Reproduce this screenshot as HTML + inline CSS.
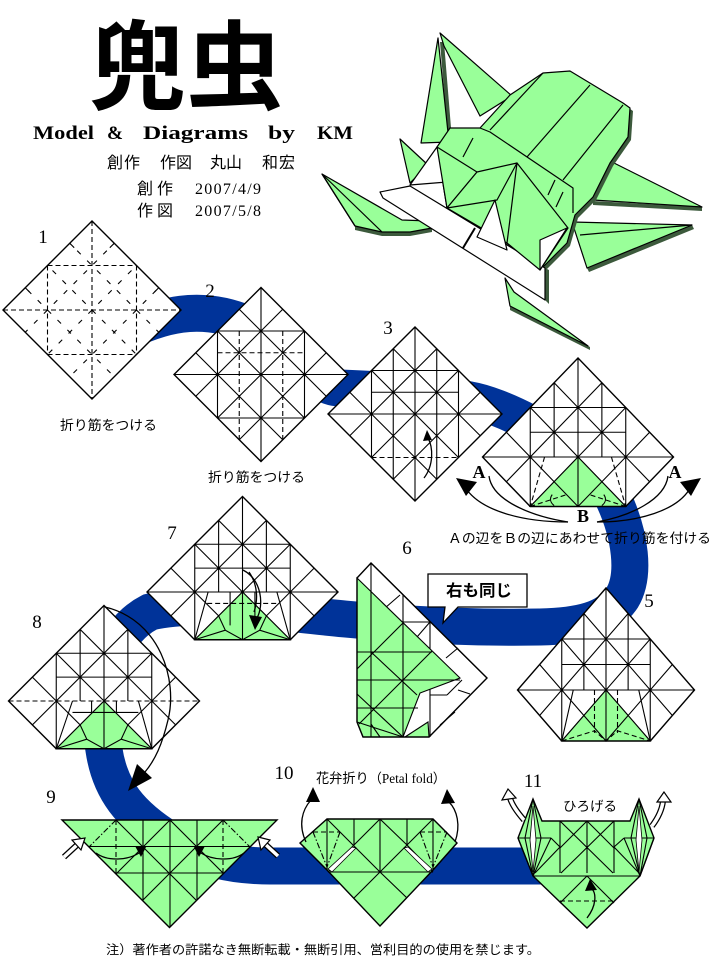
<!DOCTYPE html>
<html><head><meta charset="utf-8">
<style>
html,body{margin:0;padding:0;background:#fff;}
svg{display:block;}
.l{fill:none;stroke:#000;stroke-width:1.1;vector-effect:non-scaling-stroke;}
.d{fill:none;stroke:#000;stroke-width:1.1;stroke-dasharray:5 3;vector-effect:non-scaling-stroke;}
.d2{fill:none;stroke:#000;stroke-width:1.1;stroke-dasharray:5 9;vector-effect:non-scaling-stroke;}
.dd{fill:none;stroke:#000;stroke-width:1.1;stroke-dasharray:6 2 1.5 2;vector-effect:non-scaling-stroke;}
.o{fill:none;stroke:#000;stroke-width:1.4;stroke-linejoin:miter;vector-effect:non-scaling-stroke;}
.g{fill:#99ff99;stroke:#000;stroke-width:1.1;vector-effect:non-scaling-stroke;}
.a{fill:none;stroke:#000;stroke-width:1.3;}
.cj{font-family:"Liberation Sans","Noto Sans CJK JP",sans-serif;}
.sf{font-family:"Liberation Serif","Noto Sans CJK JP",serif;}
</style></head>
<body>
<svg width="723" height="968" viewBox="0 0 723 968" xmlns="http://www.w3.org/2000/svg">
<defs>
<clipPath id="cF"><polygon points="0,-100 100,0 0,100 -100,0"/></clipPath>
<clipPath id="cC"><polygon points="0,-100 100,0 50,50 -50,50 -100,0"/></clipPath>
<clipPath id="c9"><polygon points="62,820 277,820 169.5,927.5"/></clipPath>
</defs>
<rect width="723" height="968" fill="#fff"/>

<!-- blue band -->
<path d="M120,335 C160,315 200,303 250,325 C290,343 310,388 340,388 C385,390 430,392 470,400 C500,405 560,435 590,465 C605,480 610,490 614,500 C630,535 636,575 622,598 C607,620 580,626 540,627 C480,628 420,626 345,619 C280,613 200,600 150,612 C105,635 95,700 104,750 C110,790 130,815 170,840 C200,858 230,866 270,866 L548,866" fill="none" stroke="#003399" stroke-width="37"/>

<!-- title -->
<text x="89" y="102" class="cj" font-size="97" font-weight="bold">兜虫</text>
<g class="sf" font-size="19" font-weight="bold">
<text x="33" y="139" textLength="61" lengthAdjust="spacingAndGlyphs">Model</text>
<text x="107" y="139" textLength="16" lengthAdjust="spacingAndGlyphs">&amp;</text>
<text x="143" y="139" textLength="105" lengthAdjust="spacingAndGlyphs">Diagrams</text>
<text x="268" y="139" textLength="27" lengthAdjust="spacingAndGlyphs">by</text>
<text x="317" y="139" textLength="36" lengthAdjust="spacingAndGlyphs">KM</text>
</g>
<g class="cj" font-size="16">
<text x="107" y="168" textLength="33">創作</text>
<text x="160" y="168" textLength="32">作図</text>
<text x="210" y="168" textLength="32">丸山</text>
<text x="262" y="168" textLength="33">和宏</text>
<text x="137" y="194" textLength="36">創作</text>
<text x="137" y="216" textLength="36">作図</text>
</g>
<g class="sf" font-size="16">
<text x="195" y="194" textLength="66">2007/4/9</text>
<text x="195" y="216" textLength="66">2007/5/8</text>
</g>

<!-- beetle -->
<g stroke="#000" stroke-width="1.2" stroke-linejoin="round">
<polygon fill="#3c5a3c" stroke="none" points="593,201 702,207 702,211 593,205"/>
<polygon fill="#99ff99" points="612,162 702,207 593,200"/>
<polygon fill="#3c5a3c" stroke="none" points="587,268 692,225 694,229 589,272"/>
<polygon fill="#99ff99" points="572,222 692,225 587,268"/>
<line x1="580" y1="235" x2="692" y2="225"/>
<polygon fill="#3c5a3c" stroke="none" points="440,42 444,42 452,140 448,140"/>
<polygon fill="#99ff99" points="438,38 449,142 421,143"/>
<polygon fill="#99ff99" points="440,33 512,96 480,116 444,46"/>
<polygon fill="#99ff99" points="400,139 428,165 410,183"/>
<polygon fill="#3c5a3c" stroke="none" points="355,226 382,232 410,232 432,228 432,232 410,236 382,236 355,230"/>
<polygon fill="#99ff99" points="322,174 402,220 430,221 432,228 410,232 382,232 355,226"/>
<path fill="none" d="M322,174L355,226M322,174L382,232"/>
<polygon fill="#3c5a3c" stroke="none" transform="translate(3,3)" points="450,128 480,128 510,95 543,73 570,71 623,103 630,108 628,137 610,163 593,197 575,215 567,243 540,270 507,243 447,208 437,147"/>
<polygon fill="#99ff99" points="450,128 480,128 510,95 543,73 570,71 623,103 630,108 628,137 610,163 593,197 575,215 567,243 540,270 507,243 447,208 437,147"/>
<path fill="none" d="M480,128L490,132L573,188L573,213M543,73L490,130M590,85L527,157M623,105L563,180M473,138L463,157M555,180L548,195M563,192L556,207"/>
<polygon fill="#3c5a3c" stroke="none" points="545,268 549,270 549,304 545,300"/>
<polygon fill="#fff" points="380,192 410,186 545,268 545,300 383,198"/>
<line x1="463" y1="248" x2="475" y2="228" stroke-width="2"/>
<polygon fill="#fff" points="410,185 437,147 447,182"/>
<polygon fill="#99ff99" points="437,147 477,172 447,208"/>
<polygon fill="#99ff99" points="477,172 517,163 497,200 447,208"/>
<polygon fill="#fff" points="477,237 495,200 507,250"/>
<polygon fill="#99ff99" points="517,163 568,228 540,270 507,243"/>
<polygon fill="#fff" points="540,240 567,228 540,270"/>
<polygon fill="#3c5a3c" stroke="none" points="510,306 590,347 590,350 510,310"/>
<polygon fill="#99ff99" points="505,278 510,306 588,346 525,300 514,292"/>
</g>

<!-- step 1 -->
<g transform="translate(92,310) scale(.89)">
<polygon points="0,-100 100,0 0,100 -100,0" fill="#fff"/>
<g clip-path="url(#cF)">
<path class="d" d="M0,-100V100M-100,0H100M-50,-50V50M50,-50V50M-50,-50H50M-50,50H50"/>
<path class="d2" d="M50,-100L-150,100M100,-100L-100,100M150,-100L-50,100M-150,-100L50,100M-100,-100L100,100M-50,-100L150,100"/>
</g>
<path class="l" d="M-25,-75l5,5M25,-75l-5,5M-75,-25l5,5M75,-25l-5,5"/>
<polygon class="o" points="0,-100 100,0 0,100 -100,0"/>
</g>

<!-- step 2 -->
<g transform="translate(261,374.5) scale(.87)">
<polygon points="0,-100 100,0 0,100 -100,0" fill="#fff"/>
<g clip-path="url(#cF)">
<path class="l" d="M50,-100L-150,100M100,-100L-100,100M150,-100L-50,100M-150,-100L50,100M-100,-100L100,100M-50,-100L150,100M-50,-100V100M0,-100V100M50,-100V100M-100,-50H100M-100,0H100M-100,50H100"/>
<path class="d" d="M-25,-50V75M25,-50V75M-50,-25H50"/>
</g>
<polygon class="o" points="0,-100 100,0 0,100 -100,0"/>
</g>

<!-- step 3 -->
<g transform="translate(415,414) scale(.87)">
<polygon points="0,-100 100,0 0,100 -100,0" fill="#fff"/>
<g clip-path="url(#cF)">
<path class="l" d="M50,-100L-150,100M100,-100L-100,100M150,-100L-50,100M-150,-100L50,100M-100,-100L100,100M-50,-100L150,100M-50,-100V100M0,-100V100M50,-100V100M-25,-100V100M25,-100V100M-100,-50H100M-100,0H100M-50,-25H50"/>
<path class="d" d="M-50,50H50"/>
</g>
<polygon class="o" points="0,-100 100,0 0,100 -100,0"/>
</g>
<path class="a" d="M424,478 C434,465 433,447 428,438"/>
<polygon points="427,430 423,441 432,440"/>

<!-- step 4 -->
<g transform="translate(578,457) scale(.955,.99)">
<polygon points="0,-100 100,0 50,50 -50,50 -100,0" fill="#fff"/>
<g clip-path="url(#cC)">
<path class="l" d="M50,-100L-150,100M100,-100L-100,100M150,-100L-50,100M-150,-100L50,100M-100,-100L100,100M-50,-100L150,100M-50,-100V100M0,-100V100M50,-100V100M-25,-100V0M25,-100V0M-100,-50H100M-100,0H100M-50,-25H50"/>
</g>
<polygon class="g" points="0,0 -50,50 50,50"/>
<path class="l" d="M0,0V50M-25,25L0,50L25,25"/>
<path class="d" d="M-35,0L-50,50M35,0L50,50M-50,50L-12,38M50,50L12,38"/>
<path class="l" d="M-27,38c-3,4 -2,8 2,11M27,38c3,4 2,8 -2,11"/>
<polygon class="o" points="0,-100 100,0 50,50 -50,50 -100,0"/>
</g>
<path class="a" d="M489,476 C492,500 530,516 568,522"/>
<path class="a" d="M568,522 C520,522 482,510 467,490"/>
<polygon points="456,478 477,482 466,496"/>
<path class="a" d="M668,476 C665,500 630,516 597,522"/>
<path class="a" d="M597,522 C640,522 676,510 689,490"/>
<polygon points="701,478 680,482 691,496"/>
<g class="sf" font-size="18" font-weight="bold" text-anchor="middle">
<text x="479" y="478">A</text>
<text x="675" y="478">A</text>
<text x="583" y="522">B</text>
</g>
<text x="448" y="543" class="cj" font-size="13.5" textLength="263" lengthAdjust="spacingAndGlyphs">Ａの辺をＢの辺にあわせて折り筋を付ける</text>

<!-- step 5 -->
<g transform="translate(606,690) scale(.885,1.02)">
<polygon points="0,-100 100,0 50,50 -50,50 -100,0" fill="#fff"/>
<g clip-path="url(#cC)">
<path class="l" d="M50,-100L-150,100M100,-100L-100,100M150,-100L-50,100M-150,-100L50,100M-100,-100L100,100M-50,-100L150,100M-50,-100V100M0,-100V100M50,-100V100M-25,-100V0M25,-100V0M-100,-50H100M-100,0H100M-50,-25H50"/>
</g>
<polygon class="g" points="0,0 -50,50 50,50"/>
<path class="l" d="M0,0V50M-25,25L0,50L25,25M-50,50L-37,0M50,50L37,0"/>
<path class="d" d="M-13,0V42M13,0V42M-50,50L-13,40L0,50L13,40L50,50"/>
<polygon class="o" points="0,-100 100,0 50,50 -50,50 -100,0"/>
</g>

<!-- step 6 -->
<polygon points="357,578 371,563 487,678 429,737 363,737 357,722" fill="#fff"/>
<path class="l" d="M371,563L487,678M403,595V622H430M385,608L400,595M430,622V737M417,637L430,622M446,658L458,648M430,695H447M447,695L462,680M458,690L470,694M440,725L455,712"/>
<polygon class="g" points="357,578 460,678 420,693 403,737 363,737 357,722"/>
<path class="l" d="M371,563V737M403,623V737M357,652H432M357,680H460M357,708H418M403,623L357,669M432,651L359,724M371,652L417,695M357,694L403,737M357,722L403,737M380,737L371,724"/>
<polygon class="g" points="405,737 428,722 429,737"/>
<polygon class="o" points="357,578 371,563 487,678 429,737 363,737 357,722"/>
<!-- bubble -->
<path d="M428,574 H527 V607 H458 L443,623 L445,607 H428 Z" fill="#fff" stroke="#000" stroke-width="1.3"/>
<text x="446" y="596" class="cj" font-size="16" font-weight="bold" textLength="66" lengthAdjust="spacingAndGlyphs">右も同じ</text>

<!-- step 7 -->
<g transform="translate(242.5,592) scale(.955)">
<polygon points="0,-100 100,0 50,50 -50,50 -100,0" fill="#fff"/>
<g clip-path="url(#cC)">
<path class="l" d="M50,-100L-150,100M100,-100L-100,100M150,-100L-50,100M-150,-100L50,100M-100,-100L100,100M-50,-100L150,100M-50,-100V100M0,-100V100M50,-100V100M-25,-100V0M25,-100V0M-100,-50H100M-100,0H100M-50,-25H50"/>
</g>
<polygon class="g" points="0,0 -50,50 50,50"/>
<path class="l" d="M0,0V50M-25,25L-18,40L0,50L18,40L25,25M-50,50L-18,40M50,50L18,40M-13,0V35M13,0V35M-50,50L-36,0M50,50L36,0"/>
<path class="d" d="M-37,12H36"/>
<polygon class="o" points="0,-100 100,0 50,50 -50,50 -100,0"/>
</g>
<path class="a" d="M243,570 C262,580 264,605 257,618"/>
<path class="a" d="M249,572 C258,585 258,600 254,612"/>
<polygon points="255,630 249,615 262,617"/>

<!-- step 8 -->
<g transform="translate(104,701) scale(.955)">
<polygon points="0,-100 100,0 50,50 -50,50 -100,0" fill="#fff"/>
<g clip-path="url(#cC)">
<path class="l" d="M50,-100L-150,100M100,-100L-100,100M150,-100L-50,100M-150,-100L50,100M-100,-100L100,100M-50,-100L150,100M-50,-100V100M0,-100V100M50,-100V100M-25,-100V0M25,-100V0M-100,-50H100M-50,-25H50"/>
</g>
<polygon class="g" points="0,0 -50,50 50,50"/>
<path class="l" d="M0,0V50M-25,25L-18,40L0,50L18,40L25,25M-50,50L-18,40M50,50L18,40M-13,0V12M13,0V12M-50,50L-33,0M50,50L36,0M-33,12H36"/>
<path class="d" d="M-100,0H100"/>
<polygon class="o" points="0,-100 100,0 50,50 -50,50 -100,0"/>
</g>
<path class="a" d="M105,607 C160,620 178,680 168,720 C162,745 155,760 145,772"/>
<polygon points="128,791 137,764 152,778"/>

<!-- step 9 -->
<polygon points="62,820 277,820 169.5,927.5" fill="#99ff99"/>
<g clip-path="url(#c9)">
<path class="l" d="M143,820V930M170,820V930M197,820V930M60,846.5H280M60,873H280M116,820L226,930M170,820L280,930M170,820L60,930M223,820L113,930"/>
<path class="d" d="M116,820V880M223,820V880"/>
<path class="dd" d="M116,820L80,856M223,820L259,856"/>
</g>
<polygon class="o" points="62,820 277,820 169.5,927.5"/>
<path class="a" d="M96,853 C108,862 128,860 139,853"/>
<polygon points="146,847 135,846 141,857"/>
<path class="a" d="M244,853 C232,862 212,860 201,853"/>
<polygon points="194,847 205,846 199,857"/>
<path d="M64,857 L77,845" stroke="#000" stroke-width="6" fill="none"/>
<path d="M64,857 L77,845" stroke="#fff" stroke-width="3.5" fill="none"/>
<polygon points="85,838 81,850 72,840" fill="#fff" stroke="#000" stroke-width="1.2"/>
<path d="M278,856 L265,844" stroke="#000" stroke-width="6" fill="none"/>
<path d="M278,856 L265,844" stroke="#fff" stroke-width="3.5" fill="none"/>
<polygon points="258,837 270,840 261,850" fill="#fff" stroke="#000" stroke-width="1.2"/>

<!-- step 10 -->
<polygon points="300,843 327,819 433,819 457,843 433,870 380,926 327,870" fill="#99ff99"/>
<path class="l" d="M327,819V870M354,819V845M380,819V872M407,819V845M433,819V870M327,819L380,872M354,845L380,819M380,819L407,845M433,819L380,872M354,845L328,872M407,845L433,872M328,872H433M354,898L380,872L407,898M300,843L327,870M457,843L433,870"/>
<polygon points="328,869 352,847 356,848 332,872" fill="#fff" stroke="#000" stroke-width="0.8"/>
<polygon points="432,869 408,847 404,848 428,872" fill="#fff" stroke="#000" stroke-width="0.8"/>
<path class="d" d="M313,832H340M420,832H447"/>
<path class="dd" d="M313,832L327,867M340,832L327,867M420,832L433,867M447,832L433,867"/>
<polygon class="o" points="300,843 327,819 433,819 457,843 433,870 380,926 327,870"/>
<path class="a" d="M306,842 C298,825 302,810 311,800"/>
<polygon points="313,787 306,802 320,802"/>
<path class="a" d="M455,842 C461,825 457,810 449,802"/>
<polygon points="447,789 441,804 455,803"/>
<text x="316" y="783" class="sf" font-size="13.5" textLength="130" lengthAdjust="spacingAndGlyphs">花弁折り（Petal fold）</text>

<!-- step 11 -->
<polygon points="533,799 542,821 630,821 639,799 654,838 640,876 587,928 533,876 518,838" fill="#99ff99"/>
<path class="l" d="M560,821V873M587,821V873M614,821V873M533,876H640M560,821L613,873M614,821L561,873M587,821L560,848M587,821L614,848M551,838L560,847L535,873M624,838L614,847L639,873M587,876L560,903M587,876L614,903"/>
<path class="d" d="M560,901H614"/>
<path class="l" d="M518,838H551M533,799L525,838L533,876M533,799L541,838L533,876M518,838L533,876M551,838L533,876M624,838H654M639,799L631,838L640,876M639,799L647,838L640,876M624,838L640,876M654,838L640,876"/>
<polygon points="533,806 536,840 533,872 530,840" fill="#fff" stroke="#000" stroke-width="0.8"/>
<polygon points="639,806 642,840 639,872 636,840" fill="#fff" stroke="#000" stroke-width="0.8"/>
<polygon class="o" points="533,799 542,821 630,821 639,799 654,838 640,876 587,928 533,876 518,838"/>
<path d="M524,820 C517,812 512,805 510,798" stroke="#000" stroke-width="6" fill="none"/>
<path d="M524,820 C517,812 512,805 510,798" stroke="#fff" stroke-width="3.5" fill="none"/>
<polygon points="508,789 502,800 516,798" fill="#fff" stroke="#000" stroke-width="1.2"/>
<path d="M652,826 C658,818 662,810 663,801" stroke="#000" stroke-width="6" fill="none"/>
<path d="M652,826 C658,818 662,810 663,801" stroke="#fff" stroke-width="3.5" fill="none"/>
<polygon points="664,792 657,802 671,802" fill="#fff" stroke="#000" stroke-width="1.2"/>
<path class="a" d="M587,918 C597,905 596,893 592,889"/>
<polygon points="590,879 585,891 597,890"/>
<text x="563" y="811" class="cj" font-size="13.5" textLength="54" lengthAdjust="spacingAndGlyphs">ひろげる</text>

<!-- step numbers -->
<g class="sf" font-size="19" text-anchor="middle">
<text x="43" y="243">1</text>
<text x="210" y="297">2</text>
<text x="388" y="334">3</text>
<text x="649" y="607">5</text>
<text x="407" y="554">6</text>
<text x="172" y="539">7</text>
<text x="37" y="628">8</text>
<text x="51" y="803">9</text>
<text x="284" y="779">10</text>
<text x="533" y="787">11</text>
</g>

<!-- captions -->
<g class="cj" font-size="13.5">
<text x="60" y="430" textLength="97" lengthAdjust="spacingAndGlyphs">折り筋をつける</text>
<text x="208" y="482" textLength="97" lengthAdjust="spacingAndGlyphs">折り筋をつける</text>
</g>
<text x="106" y="954" class="cj" font-size="12.5" textLength="434" lengthAdjust="spacingAndGlyphs">注）著作者の許諾なき無断転載・無断引用、営利目的の使用を禁じます。</text>
</svg>
</body></html>
